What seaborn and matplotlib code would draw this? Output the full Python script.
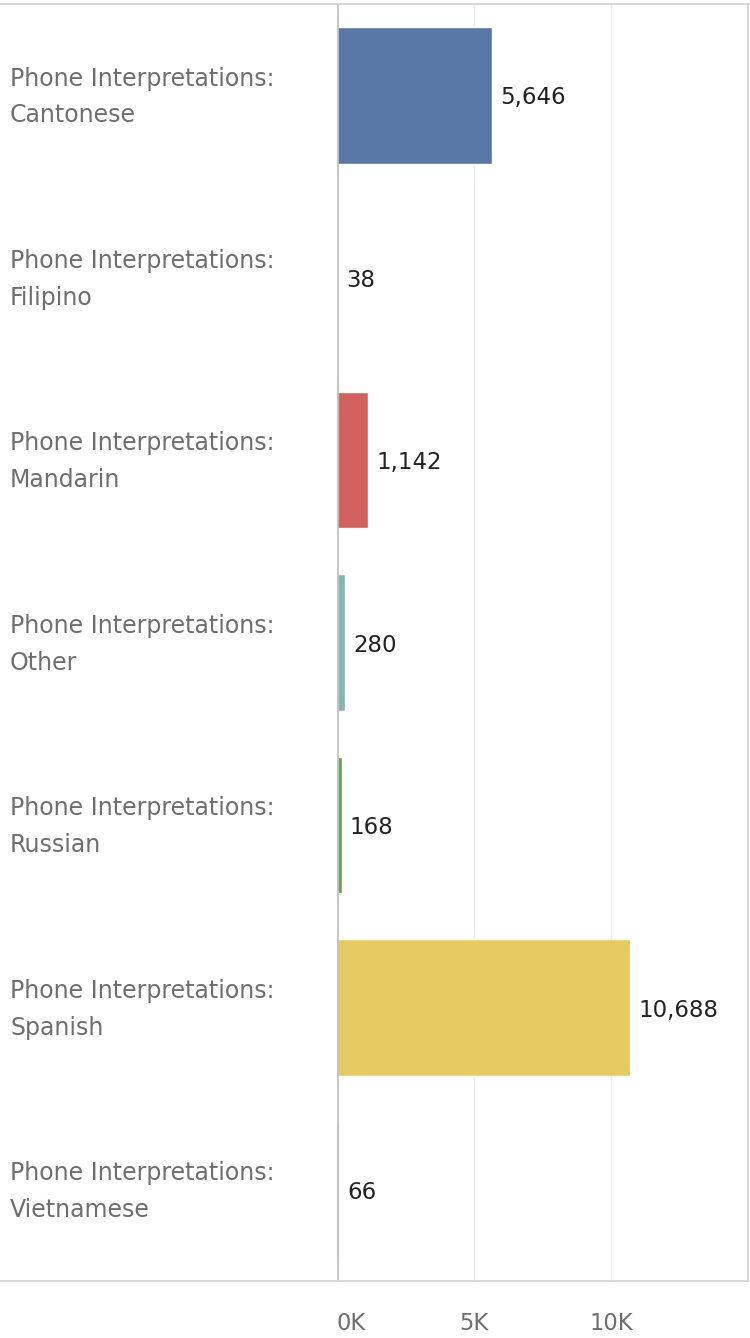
import numpy as np
import pandas as pd
import matplotlib
matplotlib.use("Agg")
import matplotlib.pyplot as plt
import matplotlib.transforms as mtransforms
from matplotlib.lines import Line2D
import seaborn as sns

# Datos
idiomas = ["Cantonese", "Filipino", "Mandarin", "Other", "Russian", "Spanish", "Vietnamese"]
valores = [5646, 38, 1142, 280, 168, 10688, 66]
colores = ["#5778a4", "#e49444", "#d1615d", "#85b6b2", "#6a9f58", "#e7ca60", "#a87c9f"]
ticks = [0, 5000, 10000]
tick_labels = ["0K", "5K", "10K"]

df = pd.DataFrame({"idioma": idiomas, "valor": valores})

sns.set_theme(style="white")
plt.rcParams["font.family"] = ["DejaVu Sans"]
FS = 17.0

W, H = 750, 1338
fig = plt.figure(figsize=(W / 100, H / 100), dpi=100)
ax = fig.add_axes([337 / W, (H - 1281) / H, (748 - 337) / W, (1281 - 4) / H])

sns.barplot(data=df, y="idioma", x="valor", hue="idioma", palette=colores,
            orient="h", width=0.75, legend=False, ax=ax, saturation=1)

ax.set_xlim(0, 15000)
ax.set_ylim(len(idiomas) - 0.5, -0.5)
ax.set_xlabel("")
ax.set_ylabel("")
ax.set_yticks([])

# rejilla
for t in ticks[1:]:
    ax.axvline(t, color="#ebebeb", lw=1, zorder=0)
ax.axvline(0, color="#c4c4c4", lw=2, zorder=3)

ax.set_xticks(ticks)
ax.set_xticklabels(tick_labels, fontsize=FS - 0.7, color="#6e6e6e")
ax.tick_params(axis="x", length=11, width=1, color="#ebebeb", pad=11, direction="out")
ax.get_xticklabels()[0].set_horizontalalignment("left")

for s in ["left", "top", "bottom"]:
    ax.spines[s].set_visible(False)
ax.spines["right"].set_color("#d4d4d4")
ax.spines["right"].set_linewidth(1.3)

# etiquetas de valor
for i, v in enumerate(valores):
    ax.annotate(f"{v:,}", xy=(v, i), xytext=(6, -2), textcoords="offset points",
                va="center", ha="left", fontsize=FS - 0.5, color="#222222")

# etiquetas de categoria
trans = mtransforms.blended_transform_factory(fig.transFigure, ax.transData)
for i, nombre in enumerate(idiomas):
    ax.text(10 / W, i + 0.01, "Phone Interpretations:\n" + nombre, transform=trans,
            ha="left", va="center", fontsize=FS, color="#6e6e6e",
            linespacing=1.68, clip_on=False)

# bordes horizontales
fig.add_artist(Line2D([0, 1], [1 - 4 / H, 1 - 4 / H], transform=fig.transFigure,
                      color="#d4d4d4", lw=1.3))
fig.add_artist(Line2D([0, 748 / W], [(H - 1281) / H, (H - 1281) / H],
                      transform=fig.transFigure, color="#d4d4d4", lw=1.3))

fig.savefig("out.png", dpi=100, facecolor="white")
